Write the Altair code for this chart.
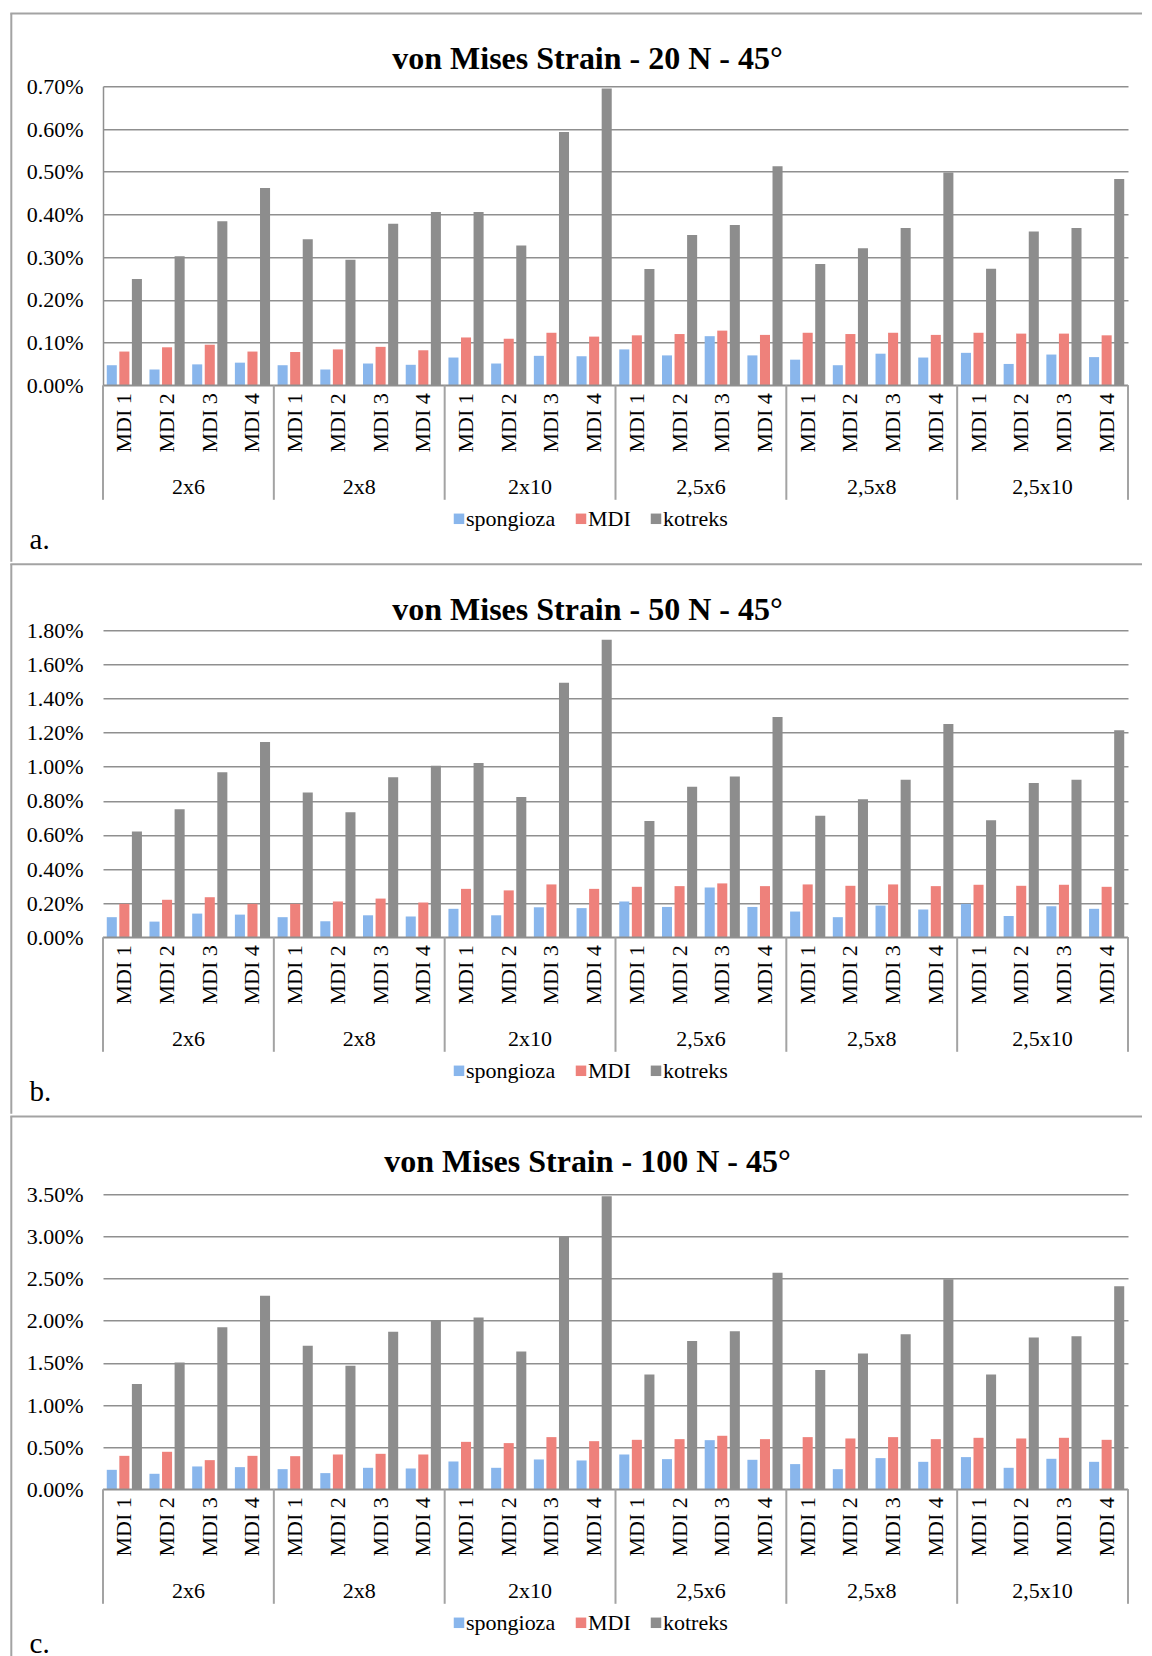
import altair as alt
import pandas as pd

groups = ["2x6", "2x8", "2x10", "2,5x6", "2,5x8", "2,5x10"]
implants = ["MDI 1", "MDI 2", "MDI 3", "MDI 4"]
series = ["spongioza", "MDI", "kotreks"]
colors = ["#89b6ec", "#ee817b", "#8d8d8d"]

titles = ["von Mises Strain - 20 N - 45°", "von Mises Strain - 50 N - 45°", "von Mises Strain - 100 N - 45°"]
letters = ["a.", "b.", "c."]

# values in percent (%), 24 per series: 6 groups x MDI 1..4
sp_20 = [0.047, 0.037, 0.049, 0.053, 0.047, 0.037, 0.051, 0.048, 0.065, 0.051, 0.069, 0.068,
         0.084, 0.070, 0.115, 0.070, 0.060, 0.047, 0.074, 0.065, 0.076, 0.050, 0.072, 0.066]
mdi_20 = [0.079, 0.089, 0.095, 0.079, 0.078, 0.084, 0.090, 0.082, 0.112, 0.109, 0.123, 0.114,
          0.117, 0.120, 0.128, 0.118, 0.123, 0.120, 0.123, 0.118, 0.123, 0.121, 0.121, 0.117]
kot_20 = [0.249, 0.302, 0.384, 0.462, 0.342, 0.294, 0.378, 0.406, 0.406, 0.327, 0.593, 0.695,
          0.272, 0.352, 0.375, 0.513, 0.284, 0.321, 0.368, 0.498, 0.273, 0.360, 0.368, 0.483]

sp_50 = [0.118, 0.092, 0.139, 0.133, 0.118, 0.094, 0.129, 0.122, 0.167, 0.129, 0.176, 0.171,
         0.210, 0.178, 0.292, 0.178, 0.151, 0.118, 0.186, 0.163, 0.196, 0.125, 0.182, 0.167]
mdi_50 = [0.196, 0.220, 0.235, 0.196, 0.196, 0.210, 0.227, 0.204, 0.284, 0.275, 0.310, 0.284,
          0.296, 0.300, 0.316, 0.300, 0.310, 0.302, 0.310, 0.300, 0.308, 0.302, 0.308, 0.296]
kot_50 = [0.620, 0.751, 0.967, 1.145, 0.849, 0.733, 0.939, 1.006, 1.022, 0.822, 1.492, 1.745,
          0.682, 0.882, 0.943, 1.292, 0.712, 0.810, 0.924, 1.251, 0.686, 0.904, 0.924, 1.214]

sp_100 = [0.231, 0.184, 0.271, 0.263, 0.239, 0.192, 0.255, 0.247, 0.330, 0.255, 0.354, 0.342,
          0.413, 0.358, 0.583, 0.350, 0.299, 0.239, 0.370, 0.326, 0.382, 0.255, 0.362, 0.326]
mdi_100 = [0.397, 0.445, 0.346, 0.397, 0.393, 0.413, 0.421, 0.413, 0.563, 0.548, 0.619, 0.571,
           0.587, 0.595, 0.635, 0.595, 0.619, 0.603, 0.619, 0.595, 0.611, 0.603, 0.611, 0.587]
kot_100 = [1.248, 1.505, 1.924, 2.295, 1.702, 1.465, 1.868, 1.999, 2.038, 1.635, 2.995, 3.478,
           1.362, 1.758, 1.876, 2.568, 1.414, 1.611, 1.841, 2.493, 1.362, 1.801, 1.817, 2.410]

y_max = [0.7, 1.8, 3.5]
y_step = [0.1, 0.2, 0.5]

FONT = "Liberation Serif"
GRID = "#8f8f8f"
FRAME = "#a3a3a3"
W = 1025
FRAME_L = -92.7
FRAME_R = 1040
keys = [f"{g}|{m}" for g in groups for m in implants]


def panel(idx, sp, mdi, kot, h, title_y, frame_top, show_domain, frame_extra=177.5):
    rows = []
    for i, k in enumerate(keys):
        for s, vals in zip(series, (sp, mdi, kot)):
            rows.append({"key": k, "series": s, "value": vals[i]})
    df = pd.DataFrame(rows)
    ymax = y_max[idx]
    n = int(round(ymax / y_step[idx]))
    yvals = [round(i * y_step[idx], 4) for i in range(n + 1)]
    xscale = alt.Scale(domain=keys, paddingInner=0, paddingOuter=0)
    frame_bottom = h + frame_extra

    one = pd.DataFrame({"a": [0]})
    frame = alt.Chart(one).mark_rect(opacity=0).encode(
        x=alt.value(FRAME_L), x2=alt.value(FRAME_R),
        y=alt.value(frame_top), y2=alt.value(frame_bottom))
    top_line = alt.Chart(one).mark_rule(color=FRAME, strokeWidth=2).encode(
        x=alt.value(FRAME_L), x2=alt.value(FRAME_R - 1), y=alt.value(frame_top + 1))
    left_line = alt.Chart(one).mark_rule(color=FRAME, strokeWidth=2).encode(
        x=alt.value(FRAME_L + 1), y=alt.value(frame_top + 1), y2=alt.value(frame_bottom - 1))

    bars = alt.Chart(df).mark_bar().encode(
        x=alt.X("key:N", scale=xscale, sort=keys, axis=None),
        xOffset=alt.XOffset("series:N", scale=alt.Scale(domain=series, paddingInner=0.2, paddingOuter=0.3)),
        y=alt.Y("value:Q", scale=alt.Scale(domain=[0, ymax], nice=False, zero=True),
                axis=alt.Axis(title=None, values=yvals, labelExpr="format(datum.value, '.2f') + '%'",
                              labelFont=FONT, labelFontSize=22, labelColor="black", labelPadding=20,
                              ticks=False, tickSize=0, domain=show_domain, domainColor=GRID,
                              domainWidth=1.5, grid=True, gridColor=GRID, gridWidth=1.5,
                              labelOverlap=False)),
        color=alt.Color("series:N", scale=alt.Scale(domain=series, range=colors),
                        legend=alt.Legend(title=None, orient="none", legendX=345, legendY=h + 133.5 - 11,
                                          direction="horizontal", symbolType="square", symbolSize=110,
                                          symbolStrokeWidth=0, symbolOpacity=1, labelFont=FONT,
                                          labelFontSize=22, labelColor="black",
                                          labelOffset=alt.ExprRef(expr="-4"),
                                          columnPadding=14, padding=0)),
    )

    # category (MDI) labels under each cluster
    cdf = pd.DataFrame({"key": keys, "lab": [m for g in groups for m in implants]})
    clabels = alt.Chart(cdf).mark_text(font=FONT, fontSize=22, angle=270, align="right",
                                       baseline="middle", color="black").encode(
        x=alt.X("key:N", scale=xscale, sort=keys, axis=None),
        y=alt.value(h + 8), text="lab:N")

    # baseline (category axis line)
    base = alt.Chart(one).mark_rule(color=GRID, strokeWidth=1.5).encode(
        x=alt.value(0), x2=alt.value(W), y=alt.value(h))

    gdf = pd.DataFrame({"group": groups, "key": [f"{g}|MDI 2" for g in groups]})
    glabels = alt.Chart(gdf).mark_text(font=FONT, fontSize=22, baseline="alphabetic", align="center",
                                       color="black").encode(
        x=alt.X("key:N", scale=xscale, sort=keys, bandPosition=1, axis=None),
        y=alt.value(h + 108.5), text="group:N")

    sdf = pd.DataFrame({"key": [f"{g}|MDI 1" for g in groups]})
    seps = alt.Chart(sdf).mark_rule(color=FRAME, strokeWidth=2).encode(
        x=alt.X("key:N", scale=xscale, sort=keys, bandPosition=0, axis=None),
        y=alt.value(h), y2=alt.value(h + 114.5))
    edf = pd.DataFrame({"key": [keys[-1]]})
    sep_end = alt.Chart(edf).mark_rule(color=FRAME, strokeWidth=2).encode(
        x=alt.X("key:N", scale=xscale, sort=keys, bandPosition=1, axis=None),
        y=alt.value(h), y2=alt.value(h + 114.5))

    title = alt.Chart(pd.DataFrame({"t": [titles[idx]]})).mark_text(
        font=FONT, fontSize=32, fontWeight="bold", align="center", baseline="alphabetic",
        color="black").encode(x=alt.value(484.5), y=alt.value(title_y), text="t:N")
    letter = alt.Chart(pd.DataFrame({"t": [letters[idx]]})).mark_text(
        font=FONT, fontSize=29, align="left", baseline="alphabetic", color="black").encode(
        x=alt.value(-73.4), y=alt.value(h + 163.5), text="t:N")

    return alt.layer(frame, top_line, left_line, bars, base, clabels, seps, sep_end, glabels,
                     title, letter).properties(width=W, height=h)


pa = panel(0, sp_20, mdi_20, kot_20, 299, -17.7, -73.7, True)
pb = panel(1, sp_50, mdi_50, kot_50, 307, -10.4, -67.0, False)
pc = panel(2, sp_100, mdi_100, kot_100, 295, -22.0, -78.7, False, frame_extra=170)

chart = alt.vconcat(pa, pb, pc, spacing=0).resolve_scale(
    color="independent", x="independent", y="independent", xOffset="independent"
).resolve_legend(color="independent").properties(
    padding={"left": 1, "top": 4.3, "right": 0, "bottom": 0}
).configure_view(stroke=None).configure_concat(spacing=0)

chart.save("out.html", embed_options={"renderer": "svg", "actions": False})
